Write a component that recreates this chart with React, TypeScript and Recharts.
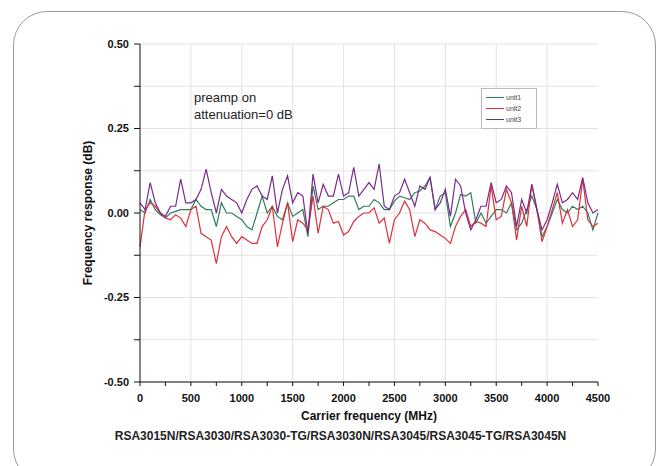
import { CartesianGrid, Legend, Line, LineChart, XAxis, YAxis } from "recharts";

const freqs = [
  0, 50, 100, 150, 200, 250, 300, 350, 400, 450,
  500, 550, 600, 650, 700, 750, 800, 850, 900, 950,
  1000, 1050, 1100, 1150, 1200, 1250, 1300, 1350, 1400, 1450,
  1500, 1550, 1600, 1650, 1700, 1750, 1800, 1850, 1900, 1950,
  2000, 2050, 2100, 2150, 2200, 2250, 2300, 2350, 2400, 2450,
  2500, 2550, 2600, 2650, 2700, 2750, 2800, 2850, 2900, 2950,
  3000, 3050, 3100, 3150, 3200, 3250, 3300, 3350, 3400, 3450,
  3500, 3550, 3600, 3650, 3700, 3750, 3800, 3850, 3900, 3950,
  4000, 4050, 4100, 4150, 4200, 4250, 4300, 4350, 4400, 4450,
  4500,
];

const unit1 = [
  0.01, 0.0, 0.04, 0.01, -0.005, -0.015, 0.0, 0.005, 0.01, 0.01,
  0.01, 0.04, 0.02, 0.01, 0.01, -0.04, 0.03, 0.0, 0.0, -0.01,
  -0.02, -0.04, -0.05, 0.0, 0.05, 0.0, 0.02, -0.01, -0.02, 0.03,
  -0.01, 0.0, 0.01, -0.07, 0.08, 0.01, 0.02, 0.02, 0.03, 0.04,
  0.04, 0.05, 0.05, 0.01, 0.02, 0.02, 0.04, 0.03, 0.01, 0.01,
  0.035, 0.05, 0.045, 0.04, 0.06, 0.065, 0.08, 0.105, 0.01, 0.05,
  0.06, -0.04, 0.0, 0.055, 0.05, 0.06, -0.03, 0.0, -0.03, -0.01,
  0.01, 0.01, 0.0, 0.03, -0.05, -0.03, 0.01, 0.05, 0.01, -0.07,
  -0.04, 0.0, 0.04, 0.01, 0.0, 0.02, 0.01, 0.02, 0.0, -0.05,
  0.0,
];

const unit2 = [
  -0.1, 0.01, 0.03, 0.02, 0.0, -0.015, -0.02, -0.005, -0.015, -0.04,
  0.01, 0.02, -0.06, -0.07, -0.08, -0.15, -0.07, -0.04, -0.07, -0.09,
  -0.07, -0.08, -0.09, -0.09, -0.04, -0.02, 0.02, -0.1, -0.03, 0.03,
  -0.085, -0.02, -0.03, -0.05, 0.05, -0.06, 0.02, 0.01, -0.03, -0.025,
  -0.065, -0.055, -0.025, -0.01, 0.0, 0.0, 0.015, -0.03, -0.015, -0.09,
  -0.02, 0.0, 0.035, 0.01, -0.07, -0.02, -0.03, -0.05, -0.055, -0.065,
  -0.075, -0.09, -0.04, -0.01, 0.01, -0.04, -0.025, -0.03, -0.04, 0.08,
  -0.02, -0.01, 0.07, 0.03, -0.08, 0.02, -0.04, 0.085, 0.01, -0.085,
  -0.04, 0.01, 0.06, -0.03, 0.01, -0.04, -0.02, 0.1, -0.02, -0.04,
  -0.03,
];

const unit3 = [
  0.03, 0.01, 0.09, 0.03, 0.0, -0.01, 0.02, 0.02, 0.1, 0.03,
  0.03, 0.04, 0.07, 0.13, 0.06, 0.0, 0.07, 0.05, 0.04, 0.03,
  0.0, 0.04, 0.07, 0.08, 0.05, 0.04, 0.11, 0.0, 0.07, 0.11,
  0.03, 0.06, 0.05, -0.06, 0.115, 0.03, 0.085, 0.05, 0.05, 0.115,
  0.05, 0.06, 0.135, 0.05, 0.07, 0.09, 0.07, 0.145, 0.02, 0.01,
  0.05, 0.06, 0.1, 0.06, 0.02, 0.08, 0.07, 0.105, 0.01, 0.03,
  0.07, -0.01, 0.1, 0.08, 0.0, -0.05, -0.02, 0.02, 0.02, 0.09,
  0.03, 0.04, 0.08, 0.06, -0.04, 0.04, 0.0, 0.085, 0.01, -0.05,
  -0.02, 0.03, 0.085, 0.03, 0.04, 0.06, 0.04, 0.105, 0.03, 0.0,
  0.01,
];

const xTicks = [0, 250, 500, 750, 1000, 1250, 1500, 1750, 2000, 2250, 2500, 2750, 3000, 3250, 3500, 3750, 4000, 4250, 4500];
const xGrid = [500, 1000, 1500, 2000, 2500, 3000, 3500, 4000];
const yTicks = [-0.5, -0.375, -0.25, -0.125, 0, 0.125, 0.25, 0.375, 0.5];

const series = [
  { key: "unit1", color: "#2f7d5b" },
  { key: "unit2", color: "#e0303a" },
  { key: "unit3", color: "#7a2a8c" },
];

const data = freqs.map((f, i) => ({ f, unit1: unit1[i], unit2: unit2[i], unit3: unit3[i] }));

const font = "'Liberation Sans', Arial, sans-serif";
const tickStyle = { fontSize: 11, fontWeight: 700, fill: "#111", fontFamily: font };

function LegendBox() {
  return (
    <div style={{ border: "1px solid #bbb", background: "#fff", padding: "3px 4px", width: 46 }}>
      {series.map((s) => (
        <div key={s.key} style={{ display: "flex", alignItems: "center", height: 11 }}>
          <div style={{ width: 18, height: 0, borderTop: `1px solid ${s.color}`, marginRight: 2 }} />
          <span style={{ fontSize: 7, color: "#444", fontFamily: font }}>{s.key}</span>
        </div>
      ))}
    </div>
  );
}

export default function App() {
  return (
    <div style={{ position: "absolute", left: 0, top: 0, width: 664, height: 466, background: "#fff", overflow: "hidden", fontFamily: font }}>
      <div
        style={{
          position: "absolute",
          left: 13,
          top: 11,
          width: 641,
          height: 470,
          border: "1.5px solid #9a9a9a",
          borderRadius: 34,
        }}
      />
      <div style={{ position: "absolute", left: 0, top: 0 }}>
        <LineChart width={664} height={466} data={data} margin={{ top: 44, right: 66, bottom: 46, left: 80 }}>
          <CartesianGrid horizontalValues={yTicks} verticalValues={xGrid} stroke="#e2e2e2" />
          <XAxis
            dataKey="f"
            type="number"
            domain={[0, 4500]}
            ticks={xTicks}
            interval={0}
            height={38}
            tickSize={4}
            tickMargin={8}
            stroke="#111"
            tick={tickStyle}
            tickFormatter={(v: number) => (v % 500 === 0 ? String(v) : "")}
            label={{ value: "Carrier frequency (MHz)", position: "insideBottom", offset: 0, style: { ...tickStyle, fontSize: 12 } }}
          />
          <XAxis xAxisId="top" dataKey="f" type="number" domain={[0, 4500]} orientation="top" height={0} tick={false} stroke="#111" />
          <YAxis
            type="number"
            domain={[-0.5, 0.5]}
            ticks={yTicks}
            interval={0}
            width={60}
            tickSize={6}
            tickMargin={5}
            stroke="#111"
            tick={tickStyle}
            tickFormatter={(v: number) => (Math.abs(v * 4 - Math.round(v * 4)) < 1e-9 ? v.toFixed(2) : "")}
            label={{ value: "Frequency response (dB)", angle: -90, position: "insideLeft", offset: 2, dx: 6, style: { ...tickStyle, fontSize: 12, textAnchor: "middle" } }}
          />
          <YAxis yAxisId="right" orientation="right" domain={[-0.5, 0.5]} width={0} tick={false} stroke="#111" />
          <Legend layout="vertical" align="center" verticalAlign="middle" content={() => <LegendBox />} wrapperStyle={{ position: "absolute", left: 481, top: 88, width: 56 }} />
          {series.map((s) => (
            <Line key={s.key} dataKey={s.key} name={s.key} stroke={s.color} strokeWidth={1.2} dot={false} isAnimationActive={false} />
          ))}
        </LineChart>
      </div>
      <div style={{ position: "absolute", left: 194, top: 89, fontSize: 13, color: "#222", lineHeight: "17px" }}>
        preamp on
        <br />
        attenuation=0 dB
      </div>
      <div style={{ position: "absolute", left: 0, top: 429, width: 681, textAlign: "center", fontSize: 12, fontWeight: 700, color: "#222" }}>
        RSA3015N/RSA3030/RSA3030-TG/RSA3030N/RSA3045/RSA3045-TG/RSA3045N
      </div>
    </div>
  );
}
